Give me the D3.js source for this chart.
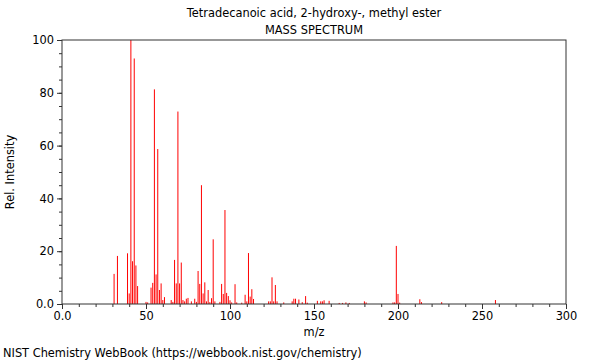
<!DOCTYPE html>
<html>
<head>
<meta charset="utf-8">
<script src="https://cdn.jsdelivr.net/npm/d3@7"></script>
<style>
  body { margin: 0; background: #fff; }
  svg { display: block; font-family: "DejaVu Sans", sans-serif; }
</style>
</head>
<body>
<svg id="chart" width="600" height="360"></svg>
<script>
const titleLine1 = "Tetradecanoic acid, 2-hydroxy-, methyl ester";
const titleLine2 = "MASS SPECTRUM";
const xLabel = "m/z";
const yLabel = "Rel. Intensity";
const footer = "NIST Chemistry WebBook (https://webbook.nist.gov/chemistry)";

const mz = [31, 33, 39, 40, 41, 42, 43, 44, 45, 50, 51, 53, 54, 55, 56, 57, 58, 59, 60, 61,
  65, 66, 67, 68, 69, 70, 71, 72, 73, 74, 75, 77, 79, 80, 81, 82, 83, 84, 85, 86, 87, 88, 89, 90, 91,
  94, 95, 96, 97, 98, 99, 100, 101, 103, 104, 107, 109, 110, 111, 112, 113, 114,
  123, 124, 125, 126, 127, 128, 132, 137, 138, 139, 141, 143, 145, 146,
  152, 154, 155, 156, 159, 165, 167, 169, 171, 180, 181, 197, 198, 199, 200, 201, 213, 214, 226, 258];
const intensity = [11.4, 18.2, 19.2, 4, 100, 16.2, 93, 14.6, 6.8, 0.8, 0.6, 6.2, 8, 81.3, 11.2, 58.7, 5.3, 7.8, 1.5, 2.6,
  1.5, 0.8, 16.7, 7.8, 72.9, 7.8, 15.7, 1.5, 1, 2, 2.3, 1, 2, 0.8, 12.5, 7.6, 45, 4, 8.2, 1, 5.3, 0.7, 2.2, 24.5, 1,
  0.8, 7.6, 3.8, 35.6, 4.2, 3, 1.4, 0.6, 7.5, 0.6, 0.5, 3.5, 1, 19.3, 2.8, 5.6, 1.9,
  1, 1, 10.1, 1, 7.2, 1, 0.6, 1, 2, 2, 1.7, 0.7, 3, 0.5,
  1.2, 1, 1, 1.4, 1.2, 0.4, 0.4, 0.6, 0.4, 1, 0.6, 0.6, 0.6, 22, 3.8, 0.5, 1.8, 0.7, 0.7, 1.5];

const xTicks = [0, 50, 100, 150, 200, 250, 300];
const xTickLabels = ["0.0", "50", "100", "150", "200", "250", "300"];
const yTicks = [0, 20, 40, 60, 80, 100];
const yTickLabels = ["0.0", "20", "40", "60", "80", "100"];

const svg = d3.select("#chart");
const mLeft = 62, mRight = 566, mTop = 40, mBottom = 304;
const fs = 11.4;

const x = d3.scaleLinear().domain([0, 300]).range([mLeft, mRight]);
const y = d3.scaleLinear().domain([0, 100]).range([mBottom, mTop]);

// titles
svg.append("text").attr("x", 314).attr("y", 17).attr("text-anchor", "middle")
  .attr("font-size", fs).attr("fill", "#000").text(titleLine1);
svg.append("text").attr("x", 314).attr("y", 34).attr("text-anchor", "middle")
  .attr("font-size", fs).attr("fill", "#000").text(titleLine2);

// peaks
const peaks = mz.map((m, i) => ({ m, v: intensity[i] }));
svg.append("g").selectAll("line").data(peaks).enter().append("line")
  .attr("x1", d => x(d.m)).attr("x2", d => x(d.m))
  .attr("y1", y(0)).attr("y2", d => y(d.v))
  .attr("stroke", "#ff0000").attr("stroke-width", 1);

// axes
const xAxis = d3.axisBottom(x).tickValues(xTicks).tickFormat((d, i) => xTickLabels[i]).tickSize(5).tickPadding(3);
const xMinor = d3.axisBottom(x).tickValues(d3.range(0, 301, 10)).tickFormat("").tickSize(3);
const yAxis = d3.axisLeft(y).tickValues(yTicks).tickFormat((d, i) => yTickLabels[i]).tickSize(5).tickPadding(3);
const yMinor = d3.axisLeft(y).tickValues(d3.range(0, 101, 5)).tickFormat("").tickSize(3);

function styleAxis(g) {
  g.select(".domain").remove();
  g.selectAll("line").attr("stroke", "#333");
  g.selectAll("text").attr("font-family", "DejaVu Sans, sans-serif").attr("font-size", fs).attr("fill", "#000");
}
svg.append("g").attr("transform", `translate(0,${mBottom})`).call(xMinor).call(styleAxis);
svg.append("g").attr("transform", `translate(0,${mBottom})`).call(xAxis).call(styleAxis);
svg.append("g").attr("transform", `translate(${mLeft},0)`).call(yMinor).call(styleAxis);
svg.append("g").attr("transform", `translate(${mLeft},0)`).call(yAxis).call(styleAxis);

// frame
svg.append("rect").attr("x", mLeft).attr("y", mTop).attr("width", mRight - mLeft).attr("height", mBottom - mTop)
  .attr("fill", "none").attr("stroke", "#333").attr("stroke-width", 1);

// axis labels
svg.append("text").attr("x", 314).attr("y", 336).attr("text-anchor", "middle")
  .attr("font-size", fs).attr("fill", "#000").text(xLabel);
svg.append("text").attr("transform", `translate(14,${(mTop + mBottom) / 2}) rotate(-90)`)
  .attr("text-anchor", "middle").attr("font-size", fs).attr("fill", "#000").text(yLabel);

// footer
svg.append("text").attr("x", 3).attr("y", 357).attr("font-size", fs).attr("fill", "#000").text(footer);
</script>
</body>
</html>
